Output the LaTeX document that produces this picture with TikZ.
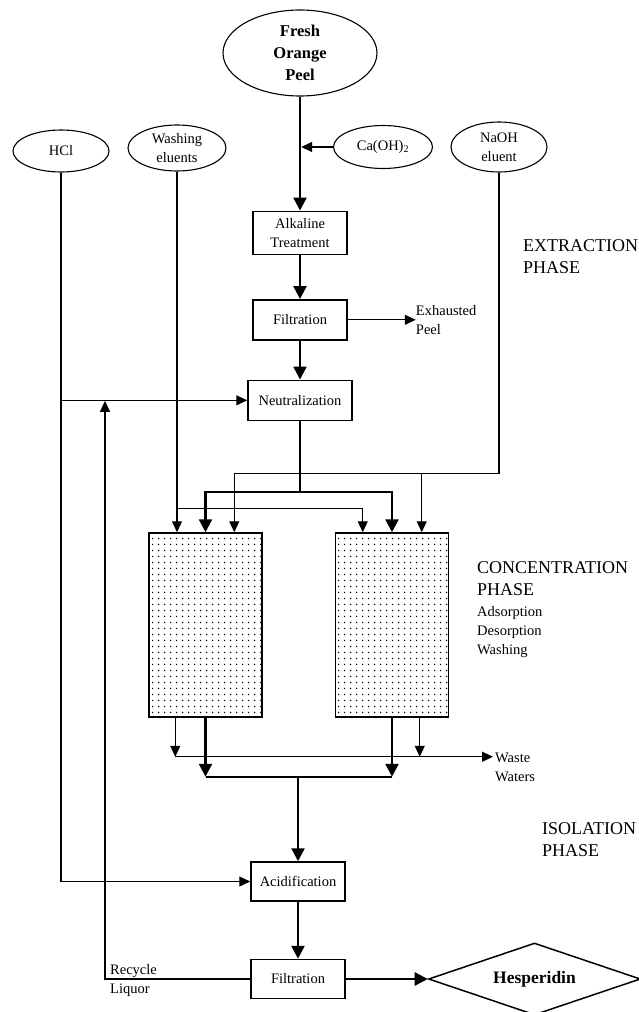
\documentclass[tikz,border=0pt]{standalone}
\usepackage{fontspec}
\setmainfont{Liberation Serif}
\usetikzlibrary{positioning, calc, arrows.meta, shapes.geometric, patterns.meta}

\tikzdeclarepattern{
    name=resin,
    type=uncolored,
    bounding box={(0pt,0pt) and (6pt,5.5pt)},
    tile size={(6pt,5.5pt)},
    code={\pgfpathcircle{\pgfpoint{3pt}{2.75pt}}{0.85pt}\pgfusepath{fill}}
}

\begin{document}
\begin{tikzpicture}[
    x=1pt, y=1pt,
    >={Triangle[length=11pt,width=10pt]},
    font=\fontsize{14.5}{19}\selectfont,
    stock/.style={
        draw,
        ellipse,
        line width=1.1pt,
        inner sep=0pt,
        align=center
    },
    stage/.style={
        draw,
        line width=1.5pt,
        align=center,
        minimum width=94pt,
        minimum height=40pt,
        inner sep=3pt
    },
    resinbed/.style={
        draw,
        line width=1.5pt,
        minimum width=113pt,
        minimum height=184pt,
        pattern=resin
    },
    sidenote/.style={align=left, inner sep=0pt, anchor=west},
    phaselabel/.style={sidenote, font=\fontsize{18}{22}\selectfont},
    mainflow/.style={line width=2.4pt, -{Triangle[length=13pt,width=13pt]}},
    mainpipe/.style={line width=2.4pt},
    sideflow/.style={line width=1.1pt, ->}
]

\useasboundingbox (0,0) rectangle (639,-1012);

\node[stock, minimum width=154pt, minimum height=86pt, font=\bfseries\fontsize{16.5}{22}\selectfont] (peel) at (300,-53) {Fresh\\Orange\\Peel};
\node[stage, minimum height=43pt, below=114pt of peel] (alk) {Alkaline\\Treatment};
\node[stage, below=44pt of alk] (filt) {Filtration};
\node[stage, minimum width=104pt, below=39pt of filt] (neut) {Neutralization};

\node[stock, minimum width=96pt, minimum height=42pt] (hcl) at (61,-151) {HCl};
\node[stock, minimum width=98pt, minimum height=46pt] (wash) at (177,-148) {Washing\\eluents};
\node[stock, minimum width=99pt, minimum height=43pt] (caoh) at (383,-147) {Ca(OH)\textsubscript{2}};
\node[stock, minimum width=96pt, minimum height=50pt] (naoh) at (499,-147) {NaOH\\eluent};

\node[sidenote, right=68pt of filt] (exh) {Exhausted\\Peel};

\node[resinbed] (colL) at (205.5,-625) {};
\node[resinbed, right=72pt of colL] (colR) {};

\node[phaselabel] (extract) at (523,-257) {EXTRACTION\\PHASE};
\node[phaselabel] (conc) at (477,-579) {CONCENTRATION\\PHASE};
\node[sidenote] (modes) at (477,-632) {Adsorption\\Desorption\\Washing};
\node[phaselabel] (isol) at (542,-840) {ISOLATION\\PHASE};
\node[sidenote] (waste) at (495,-767) {Waste\\Waters};

\node[stage, minimum height=39pt] (acid) at (298,-881.5) {Acidification};
\node[stage, minimum height=39pt, below=57pt of acid] (filt2) {Filtration};
\node[draw, diamond, aspect=3, line width=1.5pt, minimum width=212pt, minimum height=72pt, inner sep=0pt, font=\bfseries\fontsize{17.5}{21}\selectfont, right=82pt of filt2] (hesp) {Hesperidin};
\node[sidenote] (recyc) at (110,-981) {Recycle\\Liquor};

\coordinate (nsplit) at ($(neut.south |- colL.north)+(0,40pt)$);
\coordinate (wsplit) at ($(wash.south |- colL.north)+(0,24pt)$);
\coordinate (wl) at ($(colL.south west)+(27pt,-39pt)$);
\coordinate (merge) at ($(acid.north |- colL.south)+(0,-59pt)$);
\coordinate (rtop) at ($(hcl.south |- neut.west)+(44pt,0)$);

\draw[mainflow] (peel) -- (alk);
\draw[sideflow, line width=1.4pt, shorten >=1.2pt] (caoh.west) -- (caoh.west -| peel.south);
\draw[mainflow] (alk) -- (filt);
\draw[mainflow] (filt) -- (neut);
\draw[sideflow] (filt.east) -- (exh.west);

\draw[sideflow] (hcl.south) |- (neut.west);
\draw[sideflow] (hcl.south) |- (acid.west);

\draw[mainpipe] (neut.south) -- (nsplit);
\draw[mainflow] (nsplit) -| (colL.north);
\draw[mainflow] (nsplit) -| (colR.north);

\draw[sideflow] (wash.south) -- (wash.south |- colL.north);
\draw[sideflow] (wsplit) -| ($(colR.north west)+(28pt,0)$);

\draw[sideflow] (naoh.south) |- ($(colL.north west)+(86pt,59pt)$) -- ($(colL.north west)+(86pt,0)$);
\draw[sideflow] ($(colR.north west)+(87pt,59pt)$) -- ($(colR.north west)+(87pt,0)$);

\draw[sideflow] ($(colL.south west)+(27pt,0)$) -- (wl);
\draw[sideflow] ($(colR.south west)+(85pt,0)$) -- ++(0,-39pt);
\draw[sideflow, shorten >=2pt] (wl) -- (wl -| waste.west);

\draw[mainflow] (colL.south) -- ++(0,-59pt);
\draw[mainflow] (colR.south) -- ++(0,-59pt);
\draw[mainpipe] ($(colL.south)+(0,-59pt)$) -- ($(colR.south)+(0,-59pt)$);
\draw[mainflow] (merge) -- (acid.north);

\draw[mainflow] (acid) -- (filt2);
\draw[mainflow] (filt2) -- (hesp);
\draw[sideflow, shorten >=0.6pt] (filt2.west) -| (rtop);

\end{tikzpicture}
\end{document}
